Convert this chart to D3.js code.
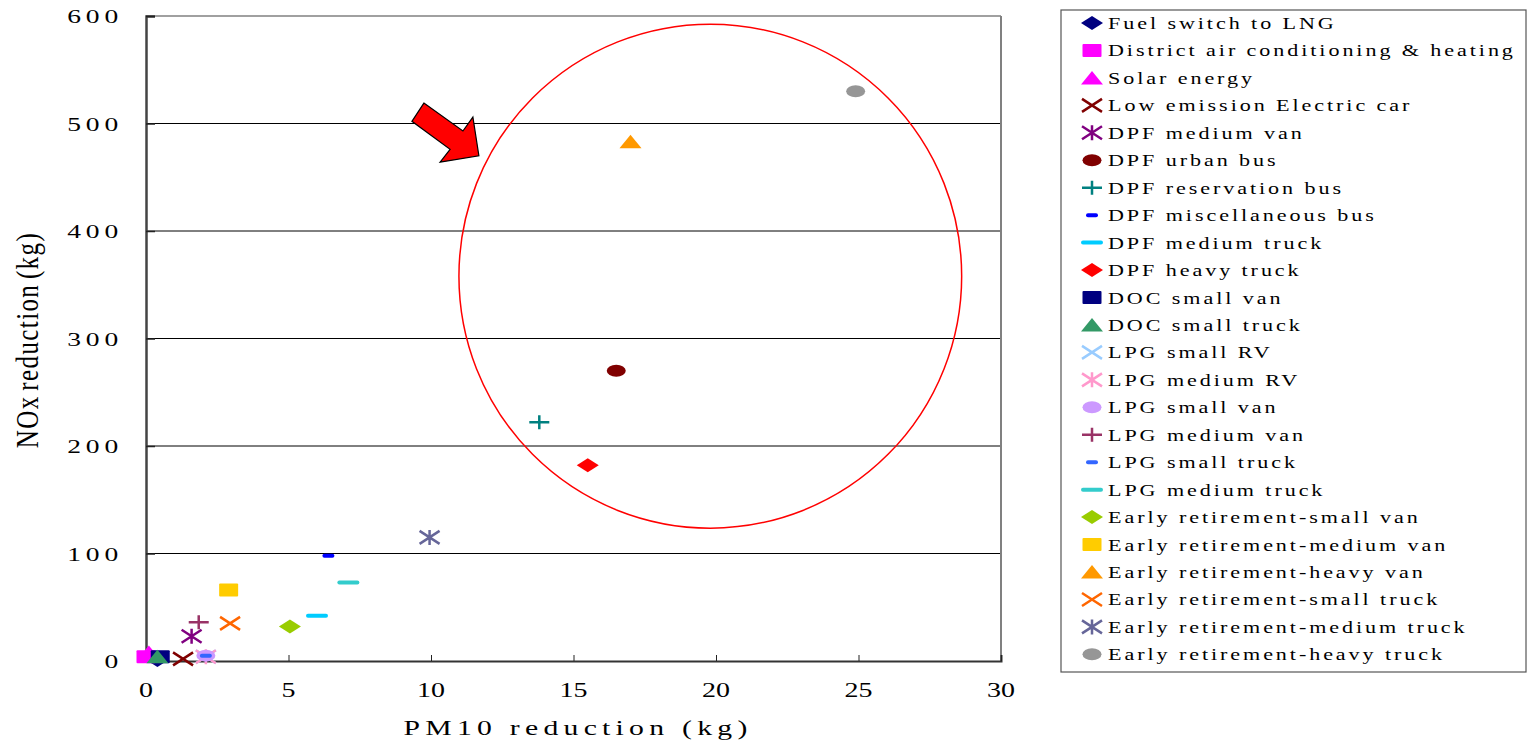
<!DOCTYPE html>
<html>
<head>
<meta charset="utf-8">
<script src="https://cdn.jsdelivr.net/npm/d3@7"></script>
<style>
    html, body { margin: 0; padding: 0; background: #fff; }
    svg { display: block; }
    text { font-family: 'Liberation Serif', 'DejaVu Serif', serif; fill: #000; }
</style>
</head>
<body>
<div id="chart"></div>
<script>
// Series, in legend order
var seriesNames = [
    'Fuel switch to LNG', 'District air conditioning & heating', 'Solar energy',
    'Low emission Electric car', 'DPF medium van', 'DPF urban bus',
    'DPF reservation bus', 'DPF miscellaneous bus', 'DPF medium truck',
    'DPF heavy truck', 'DOC small van', 'DOC small truck',
    'LPG small RV', 'LPG medium RV', 'LPG small van',
    'LPG medium van', 'LPG small truck', 'LPG medium truck',
    'Early retirement-small van', 'Early retirement-medium van', 'Early retirement-heavy van',
    'Early retirement-small truck', 'Early retirement-medium truck', 'Early retirement-heavy truck'
];
var pm10Values = [0.4, 0.0, 0.1, 1.3, 1.6, 16.5, 13.8, 6.4, 6.0, 15.5, 0.5, 0.4,
                  2.1, 2.1, 2.1, 1.85, 2.1, 7.1, 5.05, 2.9, 17.0, 2.95, 9.95, 24.9];
var noxValues = [1, 4, 8, 2, 23, 270, 222, 98, 42, 182, 4, 4,
                 4, 4, 5, 36, 5, 73, 32, 66, 483, 35, 115, 530];
var seriesShapes = ['diamond', 'square', 'triangle', 'x', 'asterisk', 'circle',
                    'plus', 'shortdash', 'dash', 'diamond', 'square', 'triangle',
                    'x', 'asterisk', 'circle', 'plus', 'shortdash', 'dash',
                    'diamond', 'square', 'triangle', 'x', 'asterisk', 'circle'];
var seriesColors = ['#000080', '#FF00FF', '#FF00FF', '#800000', '#800080', '#800000',
                    '#008080', '#0000FF', '#00CCFF', '#FF0000', '#000080', '#339966',
                    '#99CCFF', '#FF99CC', '#CC99FF', '#993366', '#3366FF', '#33CCCC',
                    '#99CC00', '#FFCC00', '#FF9900', '#FF6600', '#666699', '#969696'];

var xTicks = [0, 5, 10, 15, 20, 25, 30];
var yTicks = [0, 100, 200, 300, 400, 500, 600];

// Annotations (data units)
var highlightEllipse = { cx: 19.8, cy: 358, rx: 8.82, ry: 234.4 };
var arrowPoints = [[9.75, 519], [11.12, 493], [11.47, 506], [11.68, 470],
                   [10.32, 464], [10.67, 476], [9.33, 502]];

var width = 1528, height = 740;
var plot = { left: 146, right: 1001, top: 16, bottom: 661 };

var svg = d3.select('#chart').append('svg')
    .attr('width', width)
    .attr('height', height);

var x = d3.scaleLinear().domain([0, 30]).range([plot.left, plot.right]);
var y = d3.scaleLinear().domain([0, 600]).range([plot.bottom, plot.top]);

// Gridlines
svg.append('g')
    .selectAll('line')
    .data(yTicks.filter(function (d) { return d > 0 && d < 600; }))
    .join('line')
    .attr('x1', plot.left).attr('x2', plot.right)
    .attr('y1', function (d) { return y(d); })
    .attr('y2', function (d) { return y(d); })
    .attr('stroke', '#000')
    .attr('stroke-width', 1);

// Frame: top + right grey
svg.append('line')
    .attr('x1', plot.left).attr('x2', plot.right)
    .attr('y1', plot.top).attr('y2', plot.top)
    .attr('stroke', '#808080').attr('stroke-width', 1.5);
svg.append('line')
    .attr('x1', plot.right).attr('x2', plot.right)
    .attr('y1', plot.top).attr('y2', plot.bottom)
    .attr('stroke', '#808080').attr('stroke-width', 2);

// Axes
var xAxis = svg.append('g')
    .attr('transform', 'translate(0,' + plot.bottom + ')')
    .call(d3.axisBottom(x).tickValues(xTicks).tickSize(-6).tickFormat(''));
var yAxis = svg.append('g')
    .attr('transform', 'translate(' + plot.left + ',0)')
    .call(d3.axisLeft(y).tickValues(yTicks).tickSize(-9).tickFormat(''));
xAxis.select('.domain').attr('stroke', '#333').attr('stroke-width', 2);
yAxis.select('.domain').attr('stroke', '#444').attr('stroke-width', 2.5);
xAxis.selectAll('.tick line').attr('stroke', '#222').attr('stroke-width', 1);
yAxis.selectAll('.tick line').attr('stroke', '#222').attr('stroke-width', 1.5);

// Tick labels (wide, spaced glyphs like the original)
svg.append('g')
    .selectAll('text')
    .data(yTicks)
    .join('text')
    .attr('transform', function (d) { return 'translate(123,' + (y(d) + 7) + ') scale(1.45,1)'; })
    .attr('text-anchor', 'end')
    .style('font-size', '19px')
    .style('letter-spacing', '3.3px')
    .text(function (d) { return d; });

svg.append('g')
    .selectAll('text')
    .data(xTicks)
    .join('text')
    .attr('transform', function (d) { return 'translate(' + x(d) + ',697) scale(1.4,1)'; })
    .attr('text-anchor', 'middle')
    .style('font-size', '20px')
    .text(function (d) { return d; });

// Axis titles
svg.append('text')
    .attr('transform', 'translate(578,735) scale(1.35,1)')
    .attr('text-anchor', 'middle')
    .style('font-size', '22px')
    .style('letter-spacing', '3.9px')
    .text('PM10 reduction (kg)');

svg.append('text')
    .attr('transform', 'translate(38,340) rotate(-90) scale(1,1.25)')
    .attr('text-anchor', 'middle')
    .style('font-size', '25px')
    .style('letter-spacing', '1.4px')
    .style('word-spacing', '-3px')
    .text('NOx reduction (kg)');

// Marker drawing
function drawMarker(g, shape, color) {
    switch (shape) {
        case 'diamond':
            g.append('path').attr('d', 'M0,-7L11,0L0,7L-11,0Z').attr('fill', color);
            break;
        case 'square':
            g.append('rect').attr('x', -9.5).attr('y', -6.5).attr('width', 19).attr('height', 13)
                .attr('rx', 1).attr('fill', color);
            break;
        case 'triangle':
            g.append('path').attr('d', 'M0,-7L11,6.5L-11,6.5Z').attr('fill', color);
            break;
        case 'circle':
            g.append('ellipse').attr('rx', 9.5).attr('ry', 6).attr('fill', color);
            break;
        case 'x':
            g.append('path').attr('d', 'M-10,-6.5L10,6.5M-10,6.5L10,-6.5')
                .attr('stroke', color).attr('stroke-width', 2.5).attr('fill', 'none');
            break;
        case 'asterisk':
            g.append('path').attr('d', 'M-10,-6.5L10,6.5M-10,6.5L10,-6.5M0,-7.5L0,7.5')
                .attr('stroke', color).attr('stroke-width', 2.5).attr('fill', 'none');
            break;
        case 'plus':
            g.append('path').attr('d', 'M-10,0L10,0M0,-7L0,7')
                .attr('stroke', color).attr('stroke-width', 2.5).attr('fill', 'none');
            break;
        case 'dash':
            g.append('rect').attr('x', -11).attr('y', -2).attr('width', 22).attr('height', 4)
                .attr('rx', 2).attr('fill', color);
            break;
        case 'shortdash':
            g.append('rect').attr('x', -6).attr('y', -2).attr('width', 12).attr('height', 4)
                .attr('rx', 2).attr('fill', color);
            break;
    }
}

// Points
var pointData = seriesNames.map(function (name, i) {
    return { name: name, pm: pm10Values[i], nox: noxValues[i], shape: seriesShapes[i], color: seriesColors[i] };
});

svg.append('g')
    .selectAll('g')
    .data(pointData)
    .join('g')
    .attr('transform', function (d) { return 'translate(' + x(d.pm) + ',' + y(d.nox) + ')'; })
    .each(function (d) { drawMarker(d3.select(this), d.shape, d.color); });

// Highlight ellipse
svg.append('ellipse')
    .attr('cx', x(highlightEllipse.cx))
    .attr('cy', y(highlightEllipse.cy))
    .attr('rx', x(highlightEllipse.rx) - x(0))
    .attr('ry', y(0) - y(highlightEllipse.ry))
    .attr('fill', 'none')
    .attr('stroke', '#FF0000')
    .attr('stroke-width', 1.5);

// Block arrow
svg.append('polygon')
    .attr('points', arrowPoints.map(function (p) { return x(p[0]) + ',' + y(p[1]); }).join(' '))
    .attr('fill', '#FF0000')
    .attr('stroke', '#000')
    .attr('stroke-width', 1.2)
    .attr('stroke-linejoin', 'miter');

// Legend
var legend = svg.append('g');
legend.append('rect')
    .attr('x', 1061).attr('y', 10)
    .attr('width', 465).attr('height', 662)
    .attr('fill', '#fff')
    .attr('stroke', '#555')
    .attr('stroke-width', 1.2);

var legendStep = 27.45;
var items = legend.selectAll('g.item')
    .data(pointData)
    .join('g')
    .attr('class', 'item')
    .attr('transform', function (d, i) { return 'translate(1092,' + (23 + i * legendStep) + ')'; });

items.each(function (d) { drawMarker(d3.select(this), d.shape, d.color); });

items.append('text')
    .attr('transform', 'translate(16,6) scale(1.3,1)')
    .style('font-size', '17px')
    .style('letter-spacing', '2.25px')
    .text(function (d) { return d.name; });
</script>
</body>
</html>
